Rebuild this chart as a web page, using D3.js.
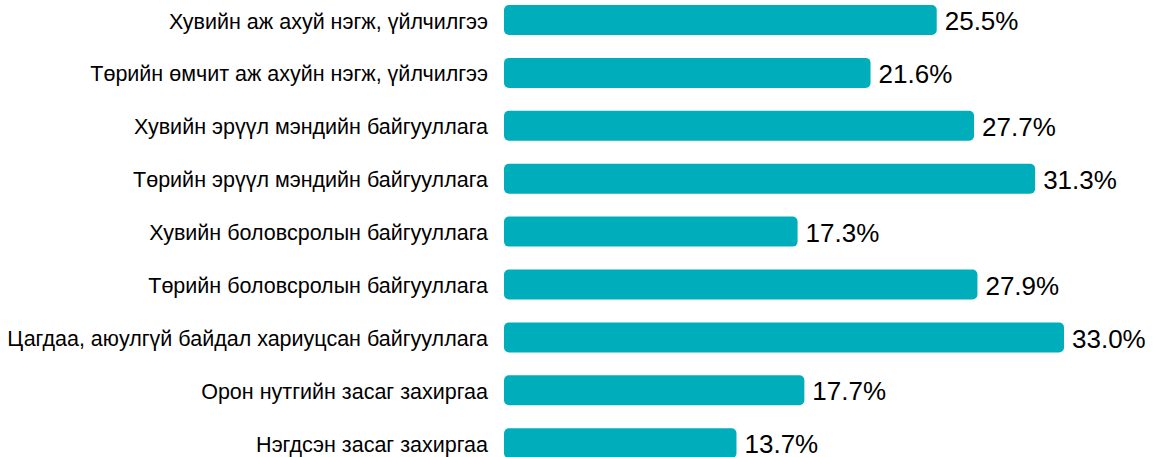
<!DOCTYPE html>
<html>
<head>
<meta charset="utf-8">
<script src="https://cdn.jsdelivr.net/npm/d3@7"></script>
<style>
  html, body { margin: 0; padding: 0; background: #ffffff; }
  svg { display: block; }
</style>
</head>
<body>
<svg id="chart" width="1158" height="457"></svg>
<script>
// Categories, top to bottom
const categories = [
  "Хувийн аж ахуй нэгж, үйлчилгээ",
  "Төрийн өмчит аж ахуйн нэгж, үйлчилгээ",
  "Хувийн эрүүл мэндийн байгууллага",
  "Төрийн эрүүл мэндийн байгууллага",
  "Хувийн боловсролын байгууллага",
  "Төрийн боловсролын байгууллага",
  "Цагдаа, аюулгүй байдал хариуцсан байгууллага",
  "Орон нутгийн засаг захиргаа",
  "Нэгдсэн засаг захиргаа"
];

// Share in percent
const values = [25.5, 21.6, 27.7, 31.3, 17.3, 27.9, 33.0, 17.7, 13.7];

const svg = d3.select("#chart");
const barColor = "#00AEBB";

const x = d3.scaleLinear()
  .domain([0, 33])
  .range([504, 1064]);

const y = d3.scaleBand()
  .domain(categories)
  .range([5, 458.2])
  .paddingInner(0.433)
  .paddingOuter(0);

const rows = categories.map((c, i) => ({ cat: c, val: values[i] }));

// Bars
svg.append("g")
  .selectAll("rect")
  .data(rows)
  .join("rect")
  .attr("x", x(0))
  .attr("y", d => y(d.cat))
  .attr("width", d => x(d.val) - x(0))
  .attr("height", y.bandwidth())
  .attr("rx", 5)
  .attr("ry", 5)
  .attr("fill", barColor);

// Category labels
svg.append("g")
  .selectAll("text")
  .data(rows)
  .join("text")
  .attr("x", 488)
  .attr("y", d => y(d.cat) + y.bandwidth() / 2 + 1)
  .attr("dy", "0.35em")
  .attr("text-anchor", "end")
  .attr("font-family", "Liberation Sans, Arial, sans-serif")
  .attr("font-size", 21.5)
  .attr("fill", "#000")
  .text(d => d.cat);

// Value labels
svg.append("g")
  .selectAll("text")
  .data(rows)
  .join("text")
  .attr("x", d => x(d.val) + 8)
  .attr("y", d => y(d.cat) + y.bandwidth() / 2 + 1)
  .attr("dy", "0.35em")
  .attr("font-family", "Liberation Sans, Arial, sans-serif")
  .attr("font-size", 26)
  .attr("fill", "#000")
  .text(d => d.val.toFixed(1) + "%");
</script>
</body>
</html>
